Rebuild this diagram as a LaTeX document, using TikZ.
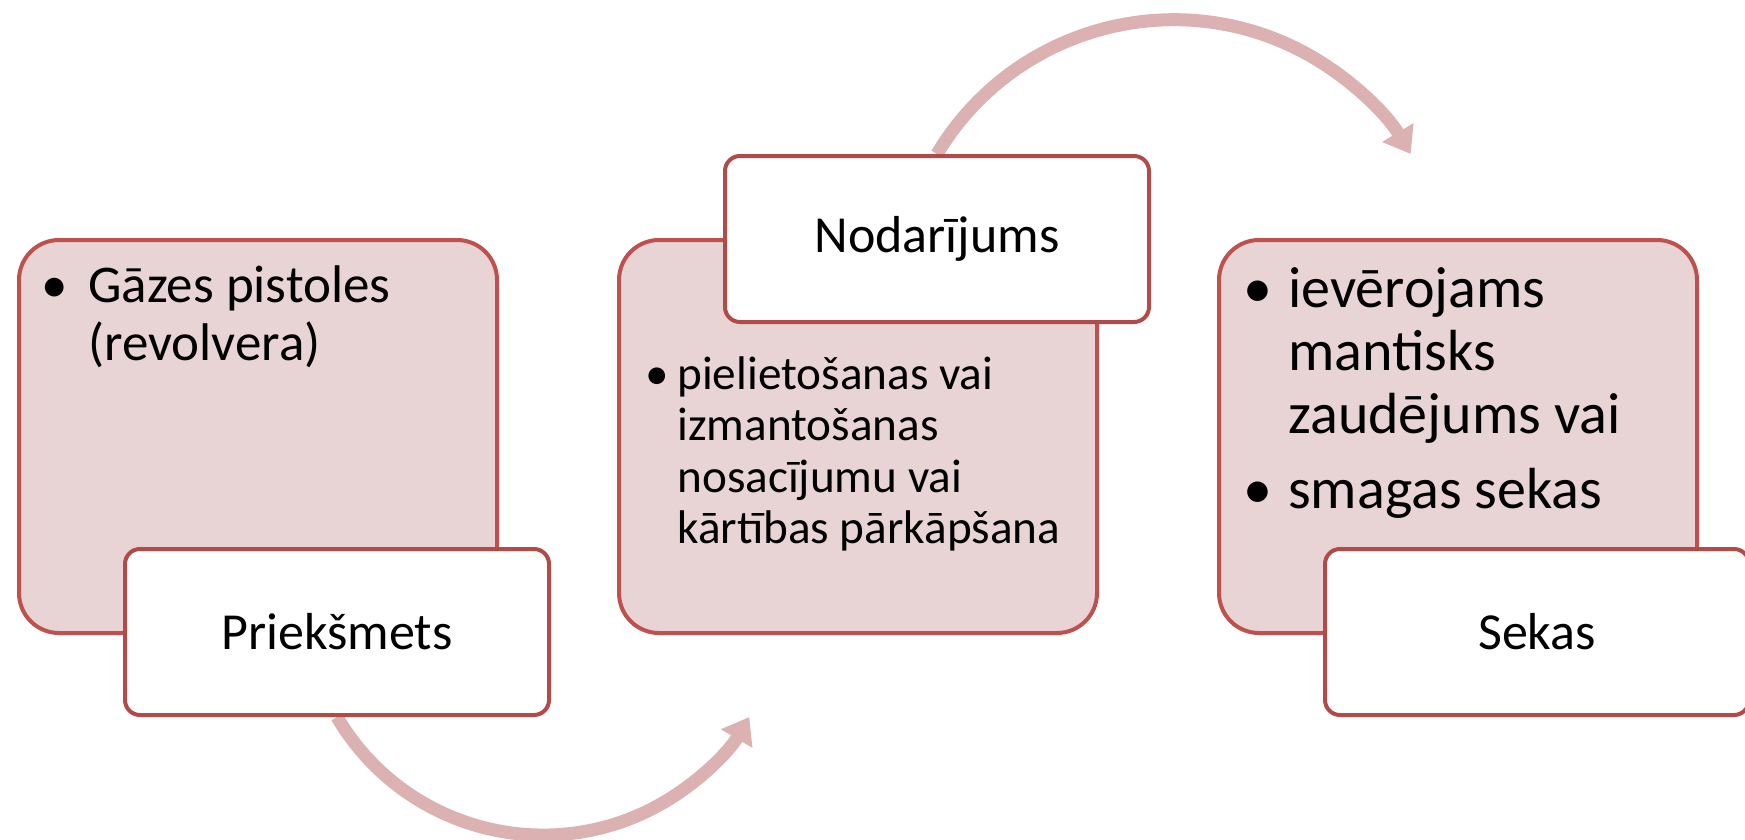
\documentclass[tikz,border=0pt]{standalone}
\usepackage{fontspec}
\setmainfont{Carlito}
\usetikzlibrary{arrows.meta,backgrounds}

\definecolor{accentred}{HTML}{C0504D}
\definecolor{labelred}{HTML}{B24B48}
\definecolor{tintpink}{HTML}{E8D4D5}
\definecolor{flowpink}{HTML}{DCB1B1}

\tikzset{
  body/.style={draw=accentred, fill=tintpink, line width=2pt, rounded corners=20pt,
    anchor=north west, minimum width=239pt, minimum height=196.5pt, inner sep=0pt},
  tag/.style={draw=labelred, fill=white, line width=2pt, rounded corners=7.5pt,
    anchor=north west, minimum width=212pt, minimum height=83pt, inner sep=0pt,
    font=\fontsize{26}{30}\selectfont},
  points/.style={anchor=north west, inner sep=0pt, align=left},
  flow/.style={draw=flowpink, line width=6.5pt, -{Triangle[length=12.5pt,width=17.5pt]}}
}

\begin{document}
\begin{tikzpicture}[x=0.5pt,y=-0.5pt]
\useasboundingbox (0,0) rectangle (1745,840);

% pink boxes
\node[body] (bodyA) at (17,238) {};
\node[body] (bodyB) at (617,238) {};
\node[body] (bodyC) at (1217,238) {};

% bullet texts
\node[points, font=\fontsize{26.5}{29}\selectfont] (textA) at (40.6,261.4)
  {\begin{tabular}{@{}p{23.7pt}@{}l@{}}\textbullet & Gāzes pistoles\\ & (revolvera)\end{tabular}};
\node[points, font=\fontsize{23.6}{25.75}\selectfont] (textB) at (644.6,353)
  {\begin{tabular}{@{}p{16.2pt}@{}l@{}}\textbullet & pielietošanas vai\\ & izmantošanas\\ & nosacījumu vai\\ & kārtības pārkāpšana\end{tabular}};
\node[points, font=\fontsize{29}{31.5}\selectfont] (textC) at (1242.7,263)
  {\begin{tabular}{@{}p{22.6pt}@{}l@{}}\textbullet & ievērojams\\ & mantisks\\ & zaudējums vai\\[6pt] \textbullet & smagas sekas\end{tabular}};

% white labels
\node[tag] (tagA) at (123,547) {Priekšmets};
\node[tag] (tagB) at (723,154) {Nodarījums};
\node[tag] (tagC) at (1323,547) {Sekas};

% curved arrows
\begin{scope}[on background layer]
\draw[flow] (tagA.south) arc[start angle=149.6, end angle=30.4, radius=239];
\draw[flow] (tagB.north) arc[start angle=210.9, end angle=329.1, radius=276];
\end{scope}
\end{tikzpicture}
\end{document}
